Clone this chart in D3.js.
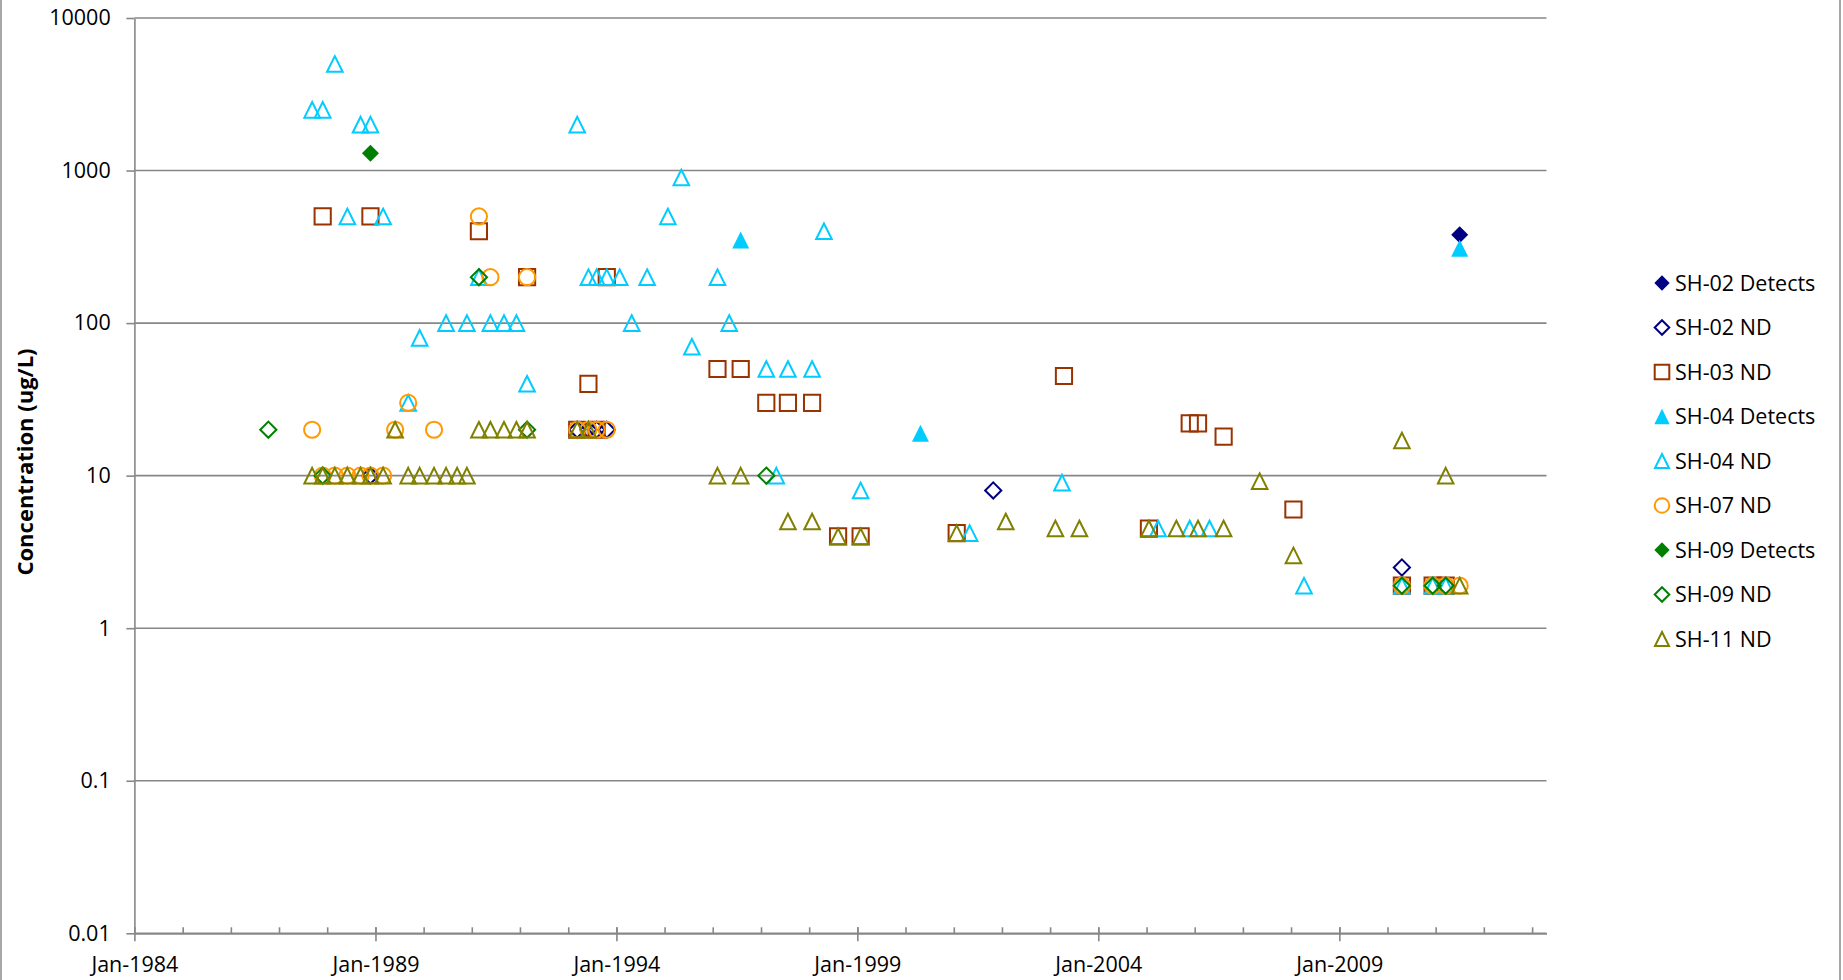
<!DOCTYPE html>
<html>
<head>
<meta charset="utf-8">
<script src="https://cdn.jsdelivr.net/npm/d3@7"></script>
<style>
  body { margin: 0; background: #fff; }
  text { font-family: "Open Sans", sans-serif; fill: #000; }
</style>
</head>
<body>
<svg id="chart" width="1843" height="980"></svg>
<script>
// values, [sample date, concentration ug/L]
var sh02Detects = [["2011-07-02", 380]]

var sh02ND = [
  ["1988-11-24", 10], ["1993-03-10", 20], ["1993-06-03", 20], ["1993-08-04", 20],
  ["1993-10-20", 20], ["2001-10-27", 8], ["2010-04-20", 2.5]
]

var sh03ND = [
  ["1987-11-28", 500], ["1988-11-24", 500], ["1991-02-24", 400], ["1992-02-24", 200],
  ["1993-03-10", 20], ["1993-06-03", 40], ["1993-08-04", 20], ["1993-10-20", 200],
  ["1996-02-06", 50], ["1996-07-31", 50], ["1997-02-10", 30], ["1997-07-24", 30],
  ["1998-01-23", 30], ["1998-08-08", 4], ["1999-01-26", 4], ["2001-01-23", 4.2],
  ["2003-04-16", 45], ["2005-01-19", 4.5], ["2005-11-24", 22], ["2006-01-26", 22],
  ["2006-08-08", 18], ["2008-01-19", 6], ["2010-04-20", 1.9], ["2010-12-09", 1.9],
  ["2011-03-18", 1.9]
]

var sh04Detects = [["1996-07-31", 350], ["2000-04-23", 19], ["2011-07-02", 310]]

var sh04ND = [
  ["1987-09-09", 2500], ["1987-11-28", 2500], ["1988-02-28", 5000], ["1988-06-02", 500],
  ["1988-09-10", 2000], ["1988-11-24", 2000], ["1989-02-28", 500], ["1989-09-06", 30],
  ["1989-12-02", 80], ["1990-06-20", 100], ["1990-11-25", 100], ["1991-02-24", 200],
  ["1991-05-22", 100], ["1991-09-02", 100], ["1991-12-05", 100], ["1992-02-24", 40],
  ["1993-03-10", 2000], ["1993-06-03", 200], ["1993-08-04", 200], ["1993-10-20", 200],
  ["1994-01-26", 200], ["1994-04-27", 100], ["1994-08-22", 200], ["1995-01-26", 500],
  ["1995-05-08", 900], ["1995-07-27", 70], ["1996-02-06", 200], ["1996-05-05", 100],
  ["1997-02-10", 50], ["1997-04-27", 10], ["1997-07-24", 50], ["1998-01-23", 50],
  ["1998-04-23", 400], ["1999-01-26", 8], ["2001-05-01", 4.2], ["2003-04-01", 9],
  ["2005-03-29", 4.5], ["2005-11-24", 4.5], ["2006-04-23", 4.5], ["2008-04-08", 1.9],
  ["2010-04-20", 1.9], ["2010-12-09", 1.9], ["2011-03-18", 1.9]
]

var sh07ND = [
  ["1987-09-09", 20], ["1987-11-28", 10], ["1988-02-28", 10], ["1988-06-02", 10],
  ["1988-09-10", 10], ["1988-11-24", 10], ["1989-02-28", 10], ["1989-05-30", 20],
  ["1989-09-06", 30], ["1990-03-21", 20], ["1991-02-24", 500], ["1991-05-22", 200],
  ["1992-02-24", 200], ["1993-03-10", 20], ["1993-06-03", 20], ["1993-08-04", 20],
  ["1993-10-20", 20], ["2010-04-20", 1.9], ["2010-12-09", 1.9], ["2011-03-18", 1.9],
  ["2011-07-02", 1.9]
]

var sh09Detects = [["1988-11-24", 1300]]

var sh09ND = [
  ["1986-10-12", 20], ["1987-11-28", 10], ["1991-02-24", 200], ["1992-02-24", 20],
  ["1997-02-10", 10], ["2010-04-20", 1.9], ["2010-12-09", 1.9], ["2011-03-18", 1.9]
]

var sh11ND = [
  ["1987-09-09", 10], ["1987-11-28", 10], ["1988-02-28", 10], ["1988-06-02", 10],
  ["1988-09-10", 10], ["1988-11-24", 10], ["1989-02-28", 10], ["1989-05-30", 20],
  ["1989-09-06", 10], ["1989-12-02", 10], ["1990-03-21", 10], ["1990-06-20", 10],
  ["1990-09-12", 10], ["1990-11-25", 10], ["1991-02-24", 20], ["1991-05-22", 20],
  ["1991-09-02", 20], ["1991-12-05", 20], ["1992-02-24", 20], ["1993-03-10", 20],
  ["1993-06-03", 20], ["1996-02-06", 10], ["1996-07-31", 10], ["1997-07-24", 5],
  ["1998-01-23", 5], ["1998-08-08", 4], ["1999-01-26", 4], ["2001-01-23", 4.2],
  ["2002-01-30", 5], ["2003-02-10", 4.5], ["2003-08-11", 4.5], ["2005-01-19", 4.5],
  ["2005-08-15", 4.5], ["2006-01-26", 4.5], ["2006-08-08", 4.5], ["2007-05-08", 9.2],
  ["2008-01-19", 3], ["2010-04-20", 17], ["2011-03-18", 10], ["2011-07-02", 1.9]
]

var seriesNames = ["SH-02 Detects", "SH-02 ND", "SH-03 ND", "SH-04 Detects", "SH-04 ND",
  "SH-07 ND", "SH-09 Detects", "SH-09 ND", "SH-11 ND"]
var seriesData = [sh02Detects, sh02ND, sh03ND, sh04Detects, sh04ND,
  sh07ND, sh09Detects, sh09ND, sh11ND]

var yTicks = [10000, 1000, 100, 10, 1, 0.1, 0.01]
var yTickLabels = ["10000", "1000", "100", "10", "1", "0.1", "0.01"]
var xLabelYears = [1984, 1989, 1994, 1999, 2004, 2009]
var axisStart = "1984-01-01", axisEnd = "2013-04-20"

// marker look per series
var styles = [
  {shape: "diamond", color: "#000080", filled: true},
  {shape: "diamond", color: "#000080", filled: false},
  {shape: "square", color: "#993300", filled: false},
  {shape: "triangle", color: "#00CCFF", filled: true},
  {shape: "triangle", color: "#00CCFF", filled: false},
  {shape: "circle", color: "#FF9900", filled: false},
  {shape: "diamond", color: "#008000", filled: true},
  {shape: "diamond", color: "#008000", filled: false},
  {shape: "triangle", color: "#808000", filled: false}
]

var parse = d3.utcParse("%Y-%m-%d")
var svg = d3.select("#chart")
var gridColor = "#878787"

// plot area edges (window.top is read-only, so no bare "top")
var plotLeft = 134.4, plotRight = 1546.5, plotTop = 18, plotBottom = 933.3

var x = d3.scaleUtc()
  .domain([parse(axisStart), parse(axisEnd)])
  .range([plotLeft, plotRight])

var y = d3.scaleLog()
  .domain([0.01, 10000])
  .range([plotBottom, plotTop])

// outer chart border
svg.append("rect")
  .attr("x", 1).attr("y", -10)
  .attr("width", 1839).attr("height", 1010)
  .attr("fill", "none")
  .attr("stroke", "#8a8a8a")
  .attr("stroke-width", 1.5)

// gridlines
svg.append("g").selectAll("line")
  .data(yTicks)
  .enter().append("line")
  .attr("x1", plotLeft).attr("x2", plotRight)
  .attr("y1", function(d) { return y(d) })
  .attr("y2", function(d) { return y(d) })
  .attr("stroke", gridColor)
  .attr("stroke-width", 1.6)

// y axis
var yAxis = d3.axisLeft(y)
  .tickValues(yTicks)
  .tickFormat(function(d, i) { return yTickLabels[i] })
  .tickSize(8)
  .tickSizeOuter(0)
  .tickPadding(15.7)

var gy = svg.append("g")
  .attr("transform", "translate(" + plotLeft + ",0)")
  .call(yAxis)
gy.selectAll("path, line").attr("stroke", gridColor).attr("stroke-width", 1.6)
gy.selectAll("text").style("font-size", "21.5px").style("font-family", "Open Sans")

// x axis, minor ticks every year
var minorDates = d3.utcYear.range(parse("1985-01-01"), parse(axisEnd))
var gMinor = svg.append("g")
  .attr("transform", "translate(0," + plotBottom + ")")
  .call(d3.axisBottom(x).tickValues(minorDates).tickSize(-6).tickSizeOuter(0).tickFormat(""))
gMinor.selectAll("path, line").attr("stroke", gridColor).attr("stroke-width", 1.6)

var majorDates = xLabelYears.map(function(yr) { return parse(yr + "-01-01") })
var xAxis = d3.axisBottom(x)
  .tickValues(majorDates)
  .tickFormat(d3.utcFormat("%b-%Y"))
  .tickSize(8)
  .tickSizeOuter(0)
  .tickPadding(15.4)

var gx = svg.append("g")
  .attr("transform", "translate(0," + plotBottom + ")")
  .call(xAxis)
gx.selectAll("line").attr("y1", -6)
gx.selectAll("path, line").attr("stroke", gridColor).attr("stroke-width", 1.6)
gx.selectAll("text").style("font-size", "21.5px").style("font-family", "Open Sans")

// y axis title
svg.append("text")
  .attr("transform", "translate(32.5,462) rotate(-90)")
  .attr("text-anchor", "middle")
  .style("font-size", "22px")
  .style("font-weight", "bold")
  .text("Concentration (ug/L)")

function markerPath(shape, h) {
  if (shape == "diamond") return "M0," + (-h) + "L" + h + ",0L0," + h + "L" + (-h) + ",0Z"
  if (shape == "triangle") return "M0," + (-h) + "L" + h + "," + h + "L" + (-h) + "," + h + "Z"
  if (shape == "square") return "M" + (-h) + "," + (-h) + "H" + h + "V" + h + "H" + (-h) + "Z"
  return "M" + h + ",0A" + h + "," + h + " 0 1,1 " + (-h) + ",0A" + h + "," + h + " 0 1,1 " + h + ",0Z"
}

function drawMarker(sel, st, scale) {
  var h = st.filled ? 8.5 : (st.shape == "triangle" ? 7.8 : 8.1)
  sel.attr("d", markerPath(st.shape, h * scale))
    .attr("fill", st.filled ? st.color : "none")
    .attr("stroke", st.filled ? "none" : st.color)
    .attr("stroke-width", 2)
}

// points, in series order so later series sit on top
var plot = svg.append("g")
seriesData.forEach(function(rows, i) {
  plot.append("g").selectAll("path")
    .data(rows)
    .enter().append("path")
    .attr("transform", function(d) { return "translate(" + x(parse(d[0])) + "," + y(d[1]) + ")" })
    .call(drawMarker, styles[i], 1)
})

// legend
var legend = svg.append("g").attr("transform", "translate(1662,283)")
seriesNames.forEach(function(name, i) {
  var row = legend.append("g").attr("transform", "translate(0," + (i * 44.5) + ")")
  row.append("path").call(drawMarker, styles[i], 0.9)
  row.append("text")
    .attr("x", 13)
    .attr("dy", "0.36em")
    .style("font-size", "21.5px")
    .text(name)
})
</script>
</body>
</html>
